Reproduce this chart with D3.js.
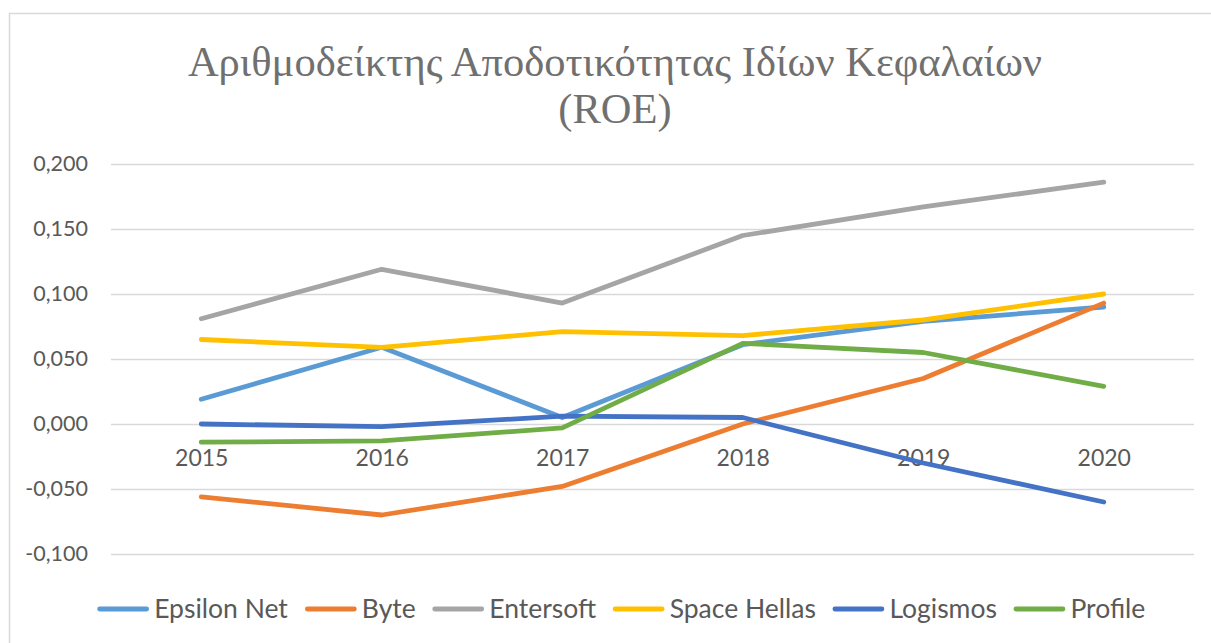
<!DOCTYPE html>
<html>
<head>
<meta charset="utf-8">
<script src="https://d3js.org/d3.v7.min.js"></script>
<style>
  body { margin: 0; background: #fff; }
  svg { display: block; }
</style>
</head>
<body>
<div id="chart"></div>
<script>
// data
var years = ["2015", "2016", "2017", "2018", "2019", "2020"];
var seriesNames = ["Epsilon Net", "Byte", "Entersoft", "Space Hellas", "Logismos", "Profile"];
var epsilonNet  = [0.019, 0.059, 0.005, 0.061, 0.079, 0.090];
var byte        = [-0.056, -0.070, -0.048, 0.000, 0.035, 0.093];
var entersoft   = [0.081, 0.119, 0.093, 0.145, 0.167, 0.186];
var spaceHellas = [0.065, 0.059, 0.071, 0.068, 0.080, 0.100];
var logismos    = [0.000, -0.002, 0.006, 0.005, -0.030, -0.060];
var profile     = [-0.014, -0.013, -0.003, 0.062, 0.055, 0.029];
var yTicks = [-0.100, -0.050, 0.000, 0.050, 0.100, 0.150, 0.200];
var colors = ["#5B9BD5", "#ED7D31", "#A5A5A5", "#FFC000", "#4472C4", "#70AD47"];

var allValues = [epsilonNet, byte, entersoft, spaceHellas, logismos, profile];
var series = seriesNames.map(function (n, i) {
  return { name: n, color: colors[i], values: allValues[i] };
});

var W = 1211, H = 643;
var plot = { left: 111, right: 1194, top: 164, bottom: 554 };

var svg = d3.select("#chart").append("svg")
  .attr("width", W).attr("height", H);

// chart frame (runs off the right and bottom edges)
svg.append("rect")
  .attr("x", 9.5).attr("y", 13.5)
  .attr("width", 1300).attr("height", 700)
  .attr("fill", "#fff")
  .attr("stroke", "#d9d9d9").attr("stroke-width", 1.5);

// title
var title = svg.append("text")
  .attr("text-anchor", "middle")
  .attr("fill", "#707070")
  .style("font-family", "'Liberation Serif', 'DejaVu Serif', serif")
  .style("font-size", "42.5px");
title.append("tspan").attr("x", 615).attr("y", 76).text("Αριθμοδείκτης Αποδοτικότητας Ιδίων Κεφαλαίων");
title.append("tspan").attr("x", 615).attr("y", 123).text("(ROE)");

var x = d3.scalePoint().domain(years).range([plot.left, plot.right]).padding(0.5);
var y = d3.scaleLinear().domain([-0.1, 0.2]).range([plot.bottom, plot.top]);

var loc = d3.formatLocale({ decimal: ",", thousands: ".", grouping: [3], currency: ["", "€"], minus: "-" });
var fmt = loc.format(".3f");

// y axis + gridlines
var yAxis = svg.append("g")
  .attr("transform", "translate(" + plot.left + ",0)")
  .call(d3.axisLeft(y).tickValues(yTicks).tickFormat(fmt)
    .tickSize(-(plot.right - plot.left)).tickPadding(23));
yAxis.select(".domain").remove();
yAxis.selectAll(".tick line").attr("stroke", "#d9d9d9").attr("stroke-width", 1.5);
yAxis.selectAll(".tick text")
  .attr("fill", "#595959")
  .style("font-family", "Lato, 'Open Sans', sans-serif")
  .style("font-size", "21.5px");

// x axis sits on zero
var xAxis = svg.append("g")
  .attr("transform", "translate(0," + y(0) + ")")
  .call(d3.axisBottom(x).tickSize(0).tickPadding(26));
xAxis.select(".domain").remove();
xAxis.selectAll(".tick text")
  .attr("fill", "#595959")
  .style("font-family", "Lato, 'Open Sans', sans-serif")
  .style("font-size", "23px");

// lines
var line = d3.line()
  .x(function (d, i) { return x(years[i]); })
  .y(function (d) { return y(d); });

svg.append("g").selectAll("path")
  .data(series)
  .join("path")
    .attr("fill", "none")
    .attr("stroke", function (d) { return d.color; })
    .attr("stroke-width", 4.8)
    .attr("stroke-linecap", "round")
    .attr("stroke-linejoin", "round")
    .attr("d", function (d) { return line(d.values); });

// legend
var legend = svg.append("g");
var items = legend.selectAll("g").data(series).join("g");
items.append("line")
  .attr("x1", 2.5).attr("x2", 49.5)
  .attr("y1", 0).attr("y2", 0)
  .attr("stroke", function (d) { return d.color; })
  .attr("stroke-width", 4.8)
  .attr("stroke-linecap", "round");
items.append("text")
  .attr("x", 57).attr("y", 0).attr("dy", "0.35em")
  .attr("fill", "#595959")
  .style("font-family", "Lato, 'Open Sans', sans-serif")
  .style("font-size", "26.5px")
  .text(function (d) { return d.name; });

var gap = 19, pos = 0, offsets = [];
items.each(function () {
  offsets.push(pos);
  pos += this.getBBox().width + gap;
});
var total = pos - gap;
var startX = 620 - total / 2;
items.attr("transform", function (d, i) { return "translate(" + (startX + offsets[i]) + ",609)"; });
</script>
</body>
</html>
